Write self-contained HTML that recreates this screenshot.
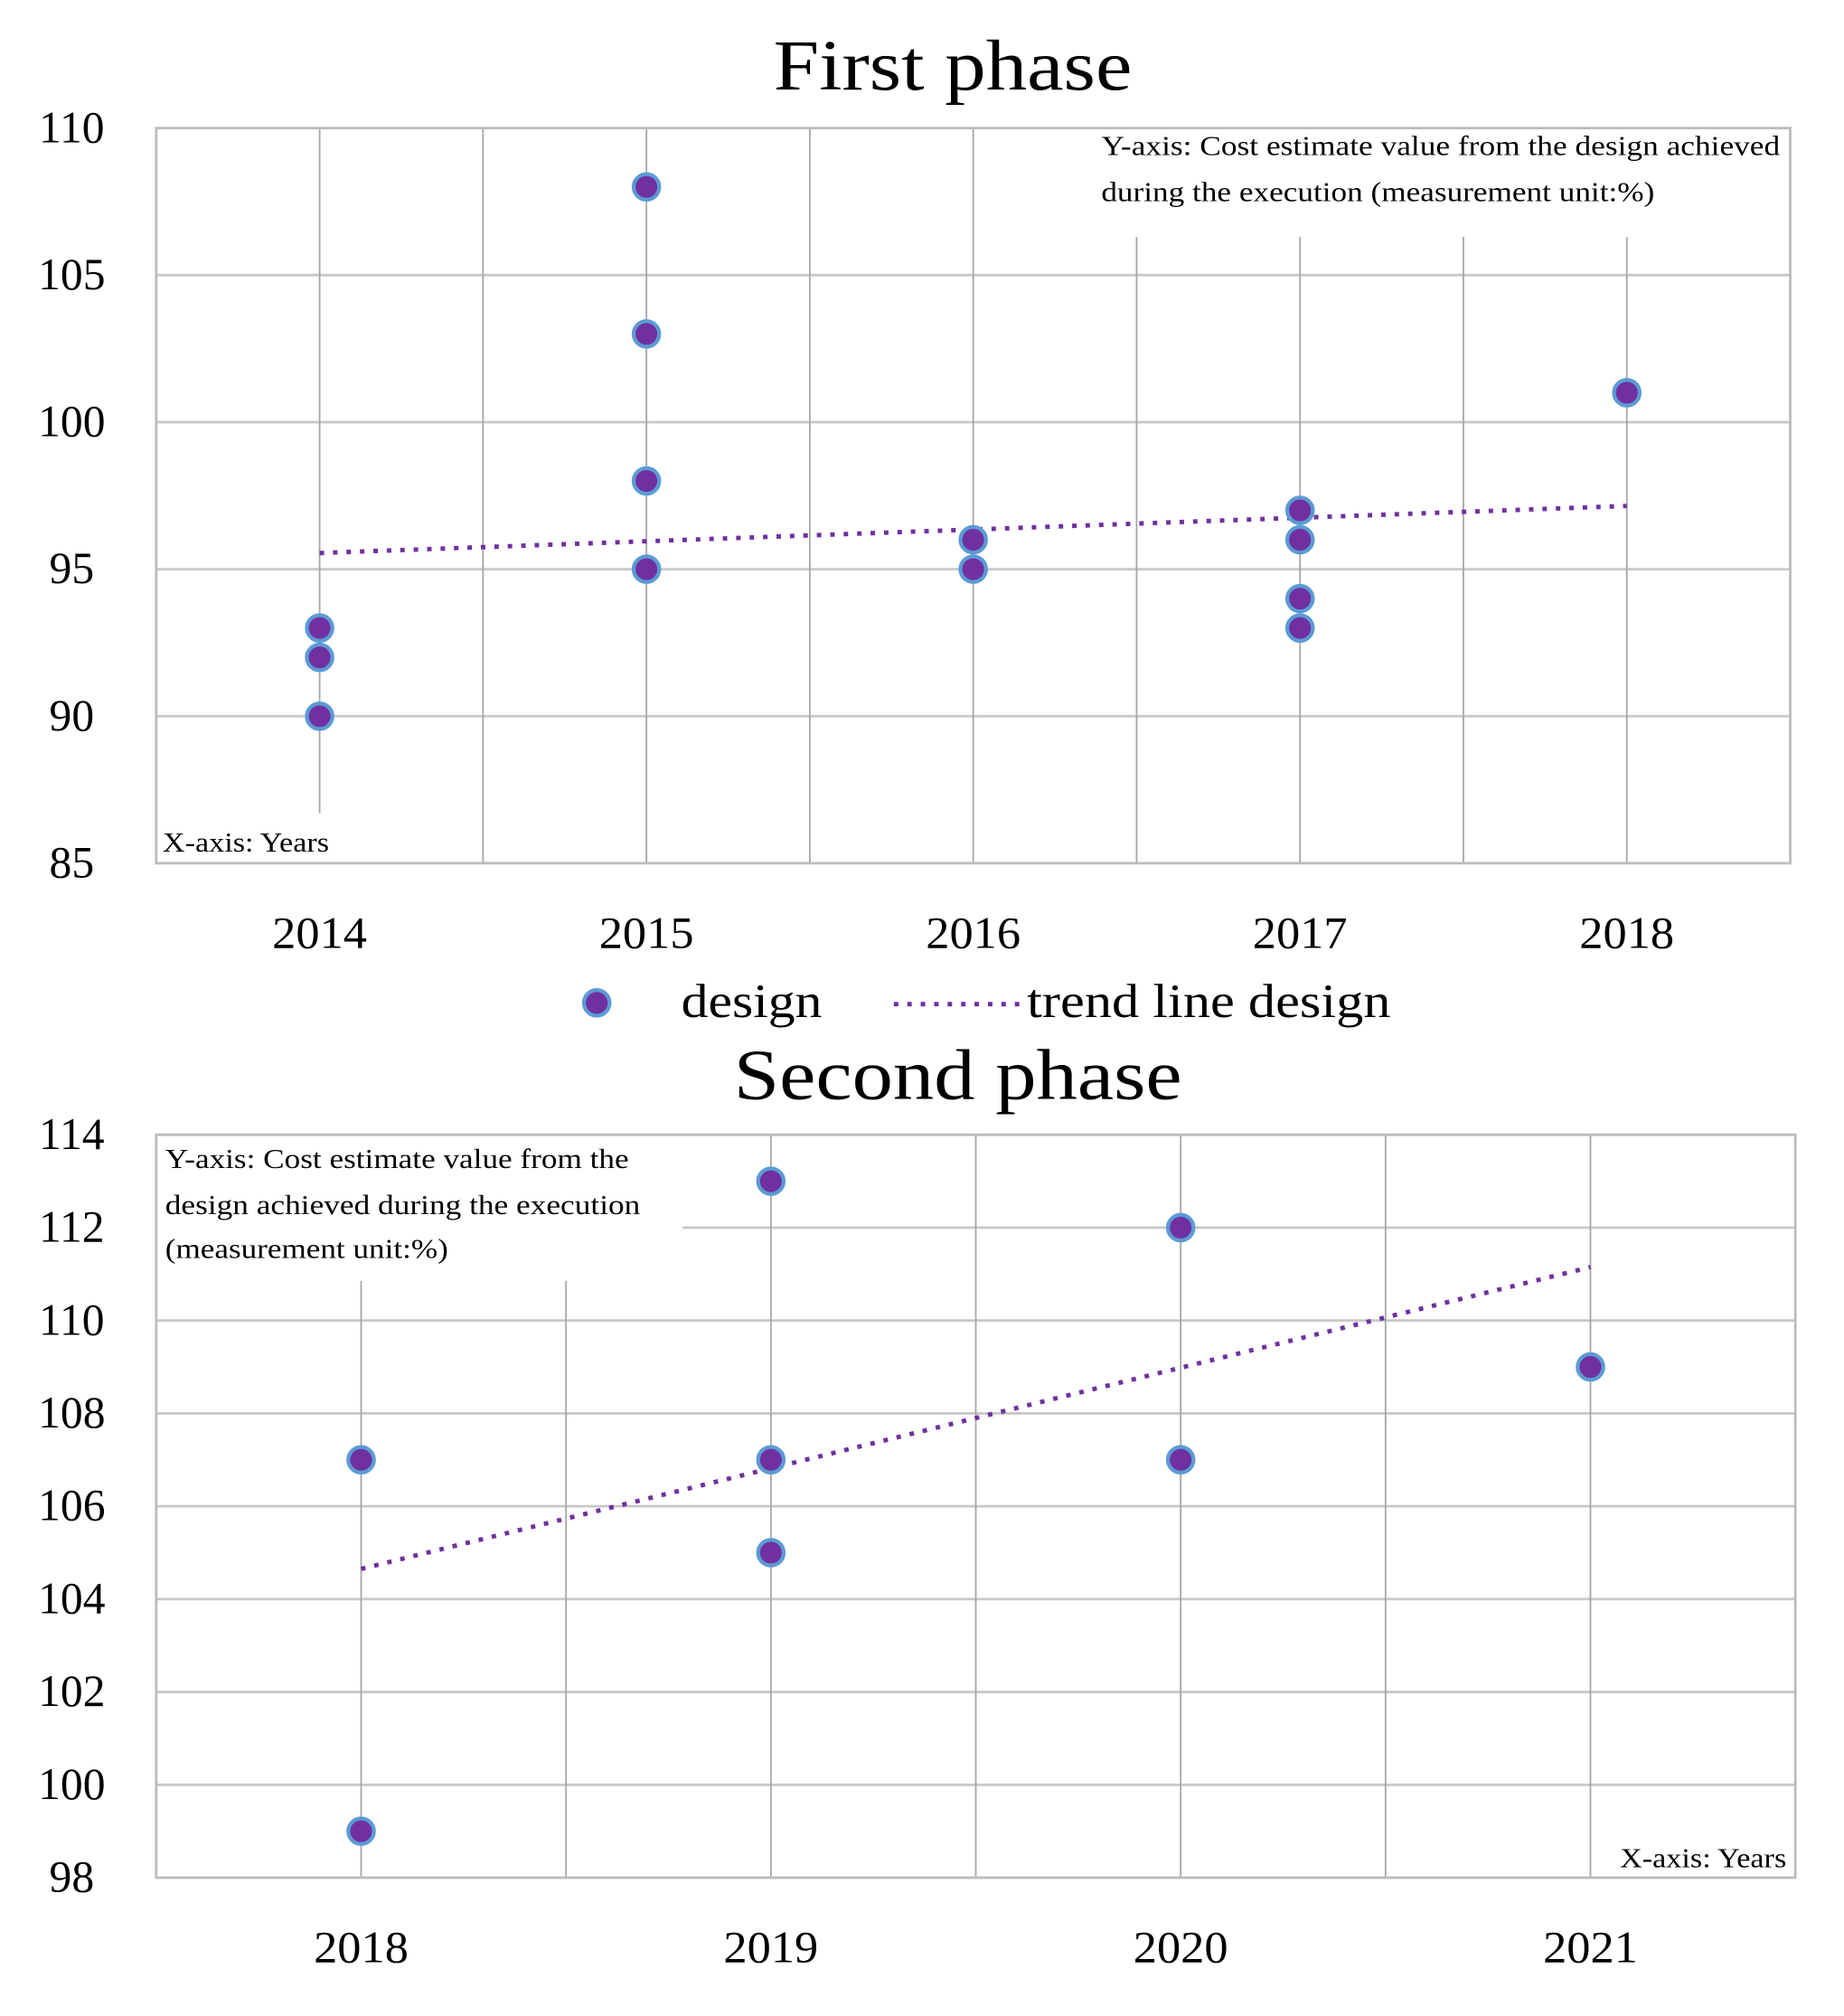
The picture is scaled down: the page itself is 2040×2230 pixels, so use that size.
<!DOCTYPE html>
<html><head><meta charset="utf-8"><style>
html,body{margin:0;padding:0;background:#fff}
svg{display:block}
text{font-family:"Liberation Serif",serif;fill:#000}
</style></head><body>
<svg id="chart" width="2040" height="2230" viewBox="0 0 1440 1574" preserveAspectRatio="none" xmlns="http://www.w3.org/2000/svg"></svg>
<script>
// Phase 1 data
const p1Years = [2014, 2015, 2016, 2017, 2018];
const p1X = [2014,2014,2014,2015,2015,2015,2015,2016,2016,2017,2017,2017,2017,2018];
const p1Y = [93,92,90,108,103,98,95,96,95,97,96,94,93,101];
const p1YTicks = [85,90,95,100,105,110];
const p1Trend = [95.55, 97.15];
// Phase 2 data
const p2Years = [2018, 2019, 2020, 2021];
const p2X = [2018,2018,2019,2019,2019,2020,2020,2021];
const p2Y = [107,99,113,107,105,112,107,109];
const p2YTicks = [98,100,102,104,106,108,110,112,114];
const p2Trend = [104.65, 111.15];

const NS='http://www.w3.org/2000/svg';
const svg=document.getElementById('chart');
function mk(tag,attrs,parent){const e=document.createElementNS(NS,tag);for(const k in attrs)e.setAttribute(k,attrs[k]);(parent||svg).appendChild(e);return e;}
function txt(s,attrs,parent){const e=mk('text',attrs,parent);e.textContent=s;return e;}

function drawPanel(cfg){
  const g=mk('g',{});
  
  
  const L=cfg.left,R=cfg.right,T=cfg.top,B=cfg.bottom;
  const x0=cfg.years[0]-0.5,x1=cfg.years[cfg.years.length-1]+0.5;
  const yMin=cfg.yTicks[0],yMax=cfg.yTicks[cfg.yTicks.length-1];
  const sx=v=>L+(v-x0)/(x1-x0)*(R-L);
  const sy=v=>B-(v-yMin)/(yMax-yMin)*(B-T);
  cfg.yTicks.forEach(t=>{
    if(t!==yMin&&t!==yMax){
      const startX=(cfg.hClip&&cfg.hClip[t])?cfg.hClip[t]:L;
      const l=mk('line',{x1:startX,x2:R,y1:sy(t),y2:sy(t),stroke:'#c8c8c8','stroke-width':2},g);
      
      
    }
    const tl=txt(String(t),{x:cfg.tickX,y:sy(t)+11,'font-size':35,'text-anchor':'middle'},g);
    
    
  });
  const n=cfg.years.length;
  for(let i=0;i<=2*n;i++){
    const v=x0+i*0.5;
    if(i===0||i===2*n)continue;
    let top=T,bot=B;
    if(cfg.vTop&&cfg.vTop[v]!==undefined)top=cfg.vTop[v];
    if(cfg.vBot&&cfg.vBot[v]!==undefined)bot=cfg.vBot[v];
    const l=mk('line',{x1:sx(v),x2:sx(v),y1:top,y2:bot,stroke:'#a8a8a8','stroke-width':1.3},g);
    
    
  }
  const fr=mk('rect',{x:L,y:T,width:R-L,height:B-T,fill:'none',stroke:'#bcbcbc','stroke-width':2},g);
  
  
  cfg.years.forEach(y=>{
    const t=txt(String(y),{x:sx(y),y:B+66,'font-size':35,'text-anchor':'middle',textLength:74,lengthAdjust:'spacingAndGlyphs'},g);
    
    
  });
  const a=cfg.years[0],b=cfg.years[n-1];
  const tr=mk('line',{x1:sx(a),y1:sy(cfg.trend[0]),x2:sx(b),y2:sy(cfg.trend[1]),stroke:'#7030a0','stroke-width':3.5,'stroke-dasharray':'3.5 7'},g);
  
  
  cfg.xs.forEach((xv,i)=>{
    const c=mk('circle',{cx:sx(xv),cy:sy(cfg.ys[i]),r:10,fill:'#7030a0',stroke:'#5b9bd5','stroke-width':3},g);
    
    
  });
  const ti=txt(cfg.title,{x:cfg.titleX,y:cfg.titleY,'font-size':56,'text-anchor':'middle',textLength:cfg.titleW,lengthAdjust:'spacingAndGlyphs'},g);
  
  
  return {sx,sy,g};
}

const P1=drawPanel({name:'first-phase-chart',left:122,right:1398,top:100,bottom:674,years:p1Years,yTicks:p1YTicks,xs:p1X,ys:p1Y,trend:p1Trend,
  tickX:56,title:'First phase',titleX:744,titleY:70,titleW:280,
  vTop:{2016.5:185,2017:185,2017.5:185,2018:185},vBot:{2014:635}});
[['Y-axis: Cost estimate value from the design achieved',860,121,530],['during the execution (measurement unit:%)',860,157,432]].forEach(([s,x,y,w])=>{
  const t=txt(s,{x:x,y:y,'font-size':22,textLength:w,lengthAdjust:'spacingAndGlyphs'},P1.g);
  
  
});
const xn1=txt('X-axis: Years',{x:127,y:665,'font-size':22,textLength:130,lengthAdjust:'spacingAndGlyphs'},P1.g);



const lg=mk('g',{});


const lc=mk('circle',{cx:466,cy:783,r:10,fill:'#7030a0',stroke:'#5b9bd5','stroke-width':3},lg);


const lt1=txt('design',{x:532,y:794,'font-size':37,textLength:110,lengthAdjust:'spacingAndGlyphs'},lg);


const ll=mk('line',{x1:698,x2:800,y1:784,y2:784,stroke:'#7030a0','stroke-width':3.5,'stroke-dasharray':'3.5 7'},lg);


const lt2=txt('trend line design',{x:802,y:794,'font-size':37,textLength:284,lengthAdjust:'spacingAndGlyphs'},lg);



const P2=drawPanel({name:'second-phase-chart',left:122,right:1402,top:886,bottom:1466,years:p2Years,yTicks:p2YTicks,xs:p2X,ys:p2Y,trend:p2Trend,
  tickX:56,title:'Second phase',titleX:748,titleY:858,titleW:350,
  hClip:{112:533},vTop:{2018:1000,2018.5:1000}});
[['Y-axis: Cost estimate value from the',129,912,362],['design achieved during the execution',129,948,371],['(measurement unit:%)',129,982,221]].forEach(([s,x,y,w])=>{
  const t=txt(s,{x:x,y:y,'font-size':22,textLength:w,lengthAdjust:'spacingAndGlyphs'},P2.g);
  
  
});
const xn2=txt('X-axis: Years',{x:1265,y:1458,'font-size':22,textLength:130,lengthAdjust:'spacingAndGlyphs'},P2.g);


</script>
</body></html>
